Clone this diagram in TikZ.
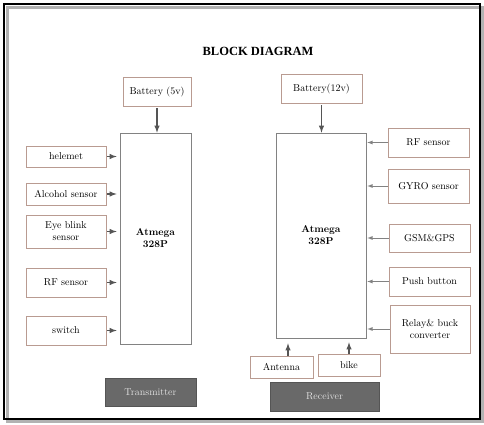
\documentclass[tikz,border=0pt]{standalone}
\usepackage{tikz}
\usepackage{xcolor}
\usepackage{fontspec}
\newfontfamily\titelschrift{Liberation Serif}
\definecolor{rahmen}{RGB}{185,155,145}
\definecolor{dunkelgrau}{RGB}{85,85,85}
\definecolor{mittelgrau}{RGB}{130,130,130}
\definecolor{blockgrau}{RGB}{105,105,105}
\definecolor{hellgrau}{RGB}{225,225,225}
\tikzset{
  modul/.style={draw=rahmen, fill=white, line width=0.6pt, align=center, font=\normalsize},
  mcu/.style={draw=mittelgrau, fill=white, line width=0.6pt, align=center, font=\normalsize\bfseries},
  etikett/.style={draw=dunkelgrau, fill=blockgrau, text=hellgrau, font=\normalsize},
  pfeil/.style={-latex, dunkelgrau, line width=1.4pt},
  duennpfeil/.style={-latex, mittelgrau, line width=0.8pt}
}

\begin{document}
\begin{tikzpicture}[x=1pt, y=-1pt]
    % Rahmen
    \useasboundingbox (0,0) rectangle (484,424);
    \draw[gray!60, line width=3pt] (7,7) rectangle (482,421);
    \draw[black, line width=2pt] (4,4) rectangle (480,419);
    \node[font=\titelschrift\fontsize{12.5}{14}\selectfont\bfseries] (titel) at (258,51) {BLOCK DIAGRAM};

    % Sender
    \node[modul, minimum width=68pt, minimum height=29pt] (bat5) at (157,91.5) {Battery (5v)};
    \node[mcu, minimum width=71pt, minimum height=211pt] (txmcu) at (155.5,238.5) {Atmega\\328P};
    \node[modul, minimum width=80pt, minimum height=21pt] (helmet) at (66,156.5) {helemet};
    \node[modul, minimum width=80pt, minimum height=22pt] (alkohol) at (66,194) {Alcohol sensor};
    \node[modul, minimum width=80pt, minimum height=33pt, inner sep=1pt] (auge) at (66,231.5) {Eye blink\\sensor};
    \node[modul, minimum width=80pt, minimum height=29pt] (rflinks) at (66,282.5) {RF sensor};
    \node[modul, minimum width=80pt, minimum height=29pt] (schalter) at (66,330.5) {switch};
    \node[etikett, minimum width=91pt, minimum height=28pt] (sender) at (150.5,392) {Transmitter};

    \draw[pfeil, shorten <=2pt] (bat5.south) -- (bat5.south |- txmcu.north);
    \foreach \n in {helmet, alkohol, auge, rflinks, schalter}
        \draw[pfeil, shorten <=1pt, shorten >=3pt] (\n.east) -- (\n.east -| txmcu.west);

    % Empfaenger
    \node[modul, minimum width=81pt, minimum height=29pt] (bat12) at (321.5,88.5) {Battery(12v)};
    \node[mcu, minimum width=90pt, minimum height=205pt] (rxmcu) at (321,235.5) {Atmega\\328P};
    \node[modul, minimum width=81pt, minimum height=29pt] (rfrechts) at (428.5,142.5) {RF sensor};
    \node[modul, minimum width=81pt, minimum height=34pt] (gyro) at (428.5,186) {GYRO sensor};
    \node[modul, minimum width=81pt, minimum height=28pt] (gsm) at (429.5,238) {GSM\&GPS};
    \node[modul, minimum width=81pt, minimum height=29pt] (taster) at (429.5,281.5) {Push button};
    \node[modul, minimum width=80pt, minimum height=48pt] (relais) at (430,329) {Relay\& buck\\converter};
    \node[modul, minimum width=63pt, minimum height=22pt] (antenne) at (281.5,367) {Antenna};
    \node[modul, minimum width=62pt, minimum height=22pt] (bike) at (349,365) {bike};
    \node[etikett, minimum width=109pt, minimum height=29pt] (empfaenger) at (324.5,396.5) {Receiver};

    \draw[pfeil, shorten <=2pt] (bat12.south) -- (bat12.south |- rxmcu.north);
    \foreach \n in {rfrechts, gyro, gsm, taster, relais}
        \draw[duennpfeil, shorten >=1pt] (\n.west) -- (\n.west -| rxmcu.east);
    \draw[pfeil, shorten >=5pt] ([xshift=6.5pt]antenne.north) -- ([xshift=6.5pt]antenne.north |- rxmcu.south);
    \draw[pfeil, shorten >=4pt] (bike.north) -- (bike.north |- rxmcu.south);
\end{tikzpicture}
\end{document}
